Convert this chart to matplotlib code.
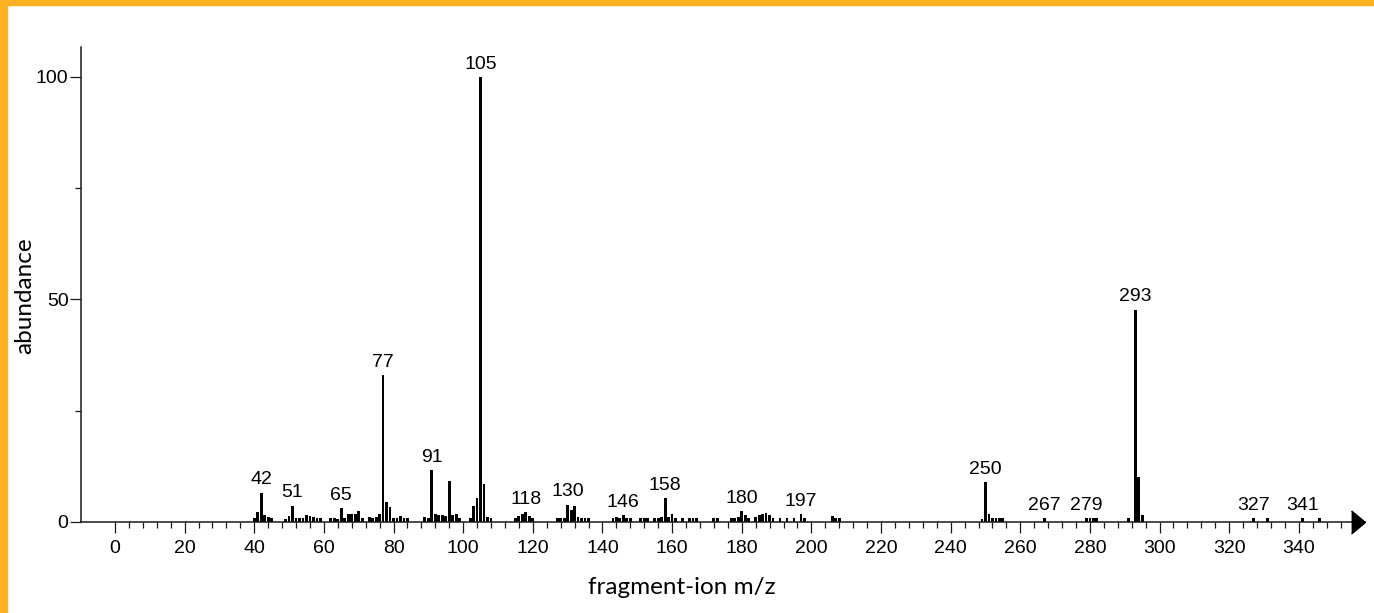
import matplotlib
matplotlib.use("Agg")
import matplotlib.pyplot as plt
from matplotlib import font_manager
from matplotlib.patches import Rectangle

# ---------------------------
# DATA
# ---------------------------
mz = [40, 41, 42, 43, 44, 45,
      49, 50, 51, 52, 53, 54, 55, 56, 57, 58, 59,
      62, 63, 64, 65, 66, 67, 68, 69, 70, 71,
      73, 74, 75, 76, 77, 78, 79, 80, 81, 82, 83, 84,
      89, 90, 91, 92, 93, 94, 95, 96, 97, 98, 99,
      102, 103, 104, 105, 106, 107, 108,
      115, 116, 117, 118, 119, 120,
      127, 128, 129, 130, 131, 132, 133, 134, 135, 136,
      143, 144, 145, 146, 147, 148,
      151, 152, 153, 155, 156, 157, 158, 159, 160, 161, 163, 165, 166, 167,
      172, 173, 177, 178, 179, 180, 181, 182, 184, 185, 186, 187, 188, 189,
      191, 193, 195, 197, 198,
      206, 207, 208,
      249, 250, 251, 252, 253, 254, 255,
      267, 279, 280, 281, 282,
      291, 293, 294, 295,
      327, 331, 341, 346]
abundance = [0.8, 2.2, 6.6, 1.5, 1.1, 0.8,
             0.75, 1.35, 3.7, 1.0, 0.8, 0.8, 1.6, 1.4, 1.1, 0.8, 0.8,
             0.8, 1.0, 0.7, 3.1, 0.8, 1.7, 1.9, 1.9, 2.5, 0.8,
             1.1, 1.0, 1.1, 1.7, 33.0, 4.6, 3.4, 1.0, 0.8, 1.4, 1.0, 0.8,
             1.1, 0.8, 11.6, 1.9, 1.5, 1.6, 1.3, 9.3, 1.5, 1.9, 0.8,
             0.8, 3.5, 5.5, 100.0, 8.5, 1.1, 0.8,
             0.8, 1.3, 1.8, 2.3, 1.3, 0.8,
             0.8, 0.8, 0.9, 3.9, 2.8, 3.6, 1.1, 0.9, 0.8, 0.8,
             0.8, 1.1, 0.8, 1.6, 1.0, 0.8,
             0.8, 0.8, 0.8, 0.8, 0.8, 1.2, 5.4, 1.2, 1.8, 1.0, 0.8, 0.8, 0.8, 0.8,
             0.8, 0.8, 0.8, 0.8, 1.1, 2.5, 1.5, 0.8, 1.2, 1.5, 1.8, 2.0, 1.6, 0.8,
             0.8, 0.8, 0.8, 1.8, 0.8,
             1.4, 0.8, 0.8,
             0.6, 8.9, 1.9, 0.8, 0.8, 0.8, 0.8,
             0.8, 0.8, 0.8, 0.8, 0.8,
             0.8, 47.7, 10.2, 1.6,
             0.8, 0.8, 0.8, 0.8]

labeled_peaks = [42, 51, 65, 77, 91, 105, 118, 130, 146, 158,
                 180, 197, 250, 267, 279, 293, 327, 341]

# ---------------------------
# STYLE
# ---------------------------
# make sure the Arial-like face is really there (fails loudly otherwise)
font_manager.findfont(font_manager.FontProperties(family="Liberation Sans"),
                      fallback_to_default=False)

plt.rcParams["font.family"] = ["Liberation Sans", "DejaVu Sans"]
plt.rcParams["font.size"] = 14
LABEL_FONT = ["Lato", "DejaVu Sans"]
AXIS_COLOR = "#1a1a1a"
BORDER_COLOR = "#FDB022"

W, H = 1374, 613
XMIN, XMAX = -9.76, 359.0

fig = plt.figure(figsize=(W / 100, H / 100), dpi=100)
ax = fig.add_axes([81 / W, 91 / H, (1365 - 81) / W, (522 - 47) / H])

# ---------------------------
# BARS + PEAK LABELS
# ---------------------------
ax.bar(mz, abundance, width=0.8, color="black", linewidth=0)

for peak in labeled_peaks:
    h = abundance[mz.index(peak)]
    ax.annotate(str(peak), xy=(peak, h), xytext=(0, 3),
                textcoords="offset points", ha="center", va="bottom",
                color="black")

# ---------------------------
# AXES
# ---------------------------
ax.set_xlim(XMIN, XMAX)
ax.set_ylim(0, 106.7)

for side in ("top", "right"):
    ax.spines[side].set_visible(False)
for side in ("left", "bottom"):
    ax.spines[side].set_color(AXIS_COLOR)
    ax.spines[side].set_linewidth(1.1)

ax.set_xticks(range(0, 341, 20))
ax.set_xticks([v for v in range(0, 356, 4) if v % 20 != 0], minor=True)
ax.set_yticks([0, 50, 100])
ax.set_yticks([25, 75], minor=True)

ax.tick_params(axis="both", which="major", length=8, width=0.9,
               color=AXIS_COLOR, labelcolor="black")
ax.tick_params(axis="both", which="minor", length=4.3, width=0.9,
               color=AXIS_COLOR)
ax.tick_params(axis="x", which="major", pad=5)
ax.tick_params(axis="y", which="major", pad=1)

# arrow head at the end of the x axis
ax.plot([357.0], [0], marker=[(-0.6, -1), (0.6, 0), (-0.6, 1)],
        markersize=16.6, color="black", clip_on=False, zorder=5)

fig.text(682 / W, 1 - 587 / H, "fragment-ion m/z", ha="center", va="center",
         family=LABEL_FONT, fontsize=17.5)
fig.text(25 / W, 1 - 296 / H, "abundance", ha="center", va="center",
         rotation=90, family=LABEL_FONT, fontsize=17.5)

# orange frame on the top and left edges
fig.patches.append(Rectangle((0, 1 - 5 / H), 1, 5 / H, transform=fig.transFigure,
                             color=BORDER_COLOR, zorder=10))
fig.patches.append(Rectangle((0, 0), 7 / W, 1, transform=fig.transFigure,
                             color=BORDER_COLOR, zorder=10))

fig.savefig("out.png", dpi=100)
